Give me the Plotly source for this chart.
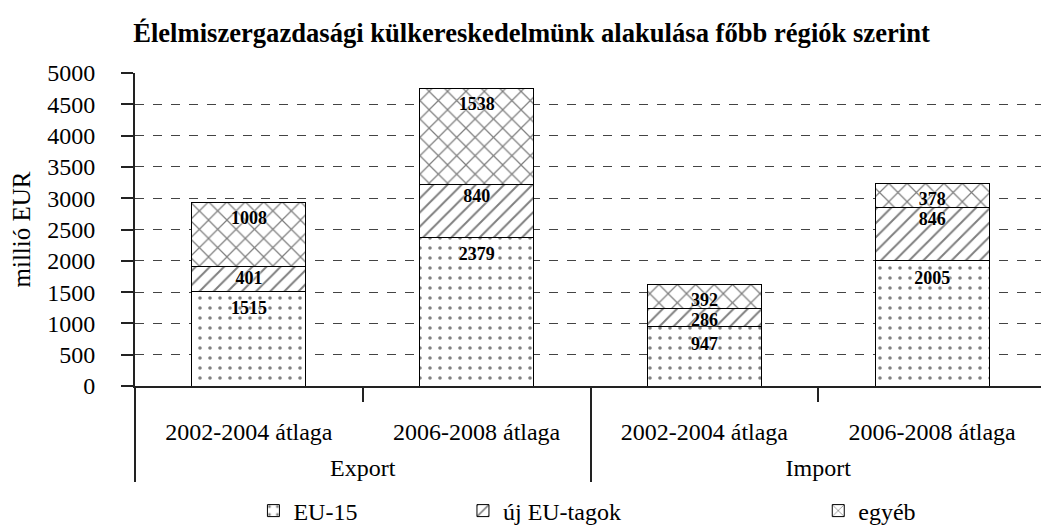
import plotly.graph_objects as go

groups = ["Export", "Export", "Import", "Import"]
periods = ["2002-2004 átlaga", "2006-2008 átlaga", "2002-2004 átlaga", "2006-2008 átlaga"]
eu15 = [1515, 2379, 947, 2005]
uj_eu = [401, 840, 286, 846]
egyeb = [1008, 1538, 392, 378]
y_ticks = [0, 500, 1000, 1500, 2000, 2500, 3000, 3500, 4000, 4500, 5000]

FONT = "Liberation Serif, Times New Roman, serif"
# the page body has an 8px default margin, so the figure is 8px smaller than the window
W, H = 1041, 517
series = [
    ("EU-15", eu15, dict(shape=".", size=10, solidity=0.1), "legend", 0.130, 14),
    ("új EU-tagok", uj_eu, dict(shape="/", size=10, solidity=0.2), "legend2", 0.360, 5),
    ("egyéb", egyeb, dict(shape="x", size=13, solidity=0.18), "legend3", 0.750, 11),
]

# group labels sit one line lower than the period labels
x_cats = [["<br>" + g for g in groups], periods]

fig = go.Figure()
base = [0, 0, 0, 0]
label_traces = []
legend_common = dict(orientation="h", xanchor="left", yref="container", y=1 - 503 / H,
                     yanchor="middle", font=dict(family=FONT, size=24),
                     bgcolor="rgba(0,0,0,0)")
legends = {}
for name, vals, pat, leg, lx, pad in series:
    fig.add_trace(go.Bar(
        name=name,
        x=x_cats,
        y=vals,
        legend=leg,
        marker=dict(color="white", line=dict(color="black", width=1),
                    pattern=dict(fgcolor="black", bgcolor="white", **pat)),
        width=0.5,
    ))
    legends[leg] = dict(x=lx, **legend_common)
    tops = [b + v for b, v in zip(base, vals)]
    label_traces.append(go.Scatter(
        x=x_cats, y=tops, mode="markers+text",
        marker=dict(size=pad, opacity=0),
        text=[str(v) for v in vals], textposition="bottom center",
        textfont=dict(family=FONT, size=18, color="black", weight="bold",
                      shadow="0px 0px 3px white"),
        showlegend=False, hoverinfo="skip", cliponaxis=False,
    ))
    base = tops
for t in label_traces:
    fig.add_trace(t)

fig.update_layout(
    barmode="stack",
    width=W, height=H,
    paper_bgcolor="white", plot_bgcolor="white",
    margin=dict(l=125, r=3, t=65, b=139),
    font=dict(family=FONT, size=24, color="black"),
    title=dict(text="<b>Élelmiszergazdasági külkereskedelmünk alakulása főbb régiók szerint</b>",
               x=523.5 / W, xanchor="center", y=1 - 25 / H, yanchor="middle",
               font=dict(family=FONT, size=26.6)),
    **legends,
)
fig.update_yaxes(
    range=[0, 5000], tickvals=y_ticks, showgrid=True, gridcolor="#444",
    griddash="dash", gridwidth=1, showline=True, linecolor="#222", linewidth=2,
    ticks="outside", ticklen=12, tickcolor="#222", tickwidth=2,
    tickfont=dict(family=FONT, size=24), ticklabelstandoff=21,
    title=dict(text="millió EUR", font=dict(family=FONT, size=25), standoff=19),
    zeroline=False,
)
fig.update_xaxes(
    type="multicategory", showline=True, linecolor="#222", linewidth=2,
    ticks="outside", ticklen=14, tickcolor="#222", tickwidth=2,
    showdividers=True, dividercolor="#222", dividerwidth=2,
    tickfont=dict(family=FONT, size=24), ticklabelstandoff=23,
)
fig.write_html("out.html")
